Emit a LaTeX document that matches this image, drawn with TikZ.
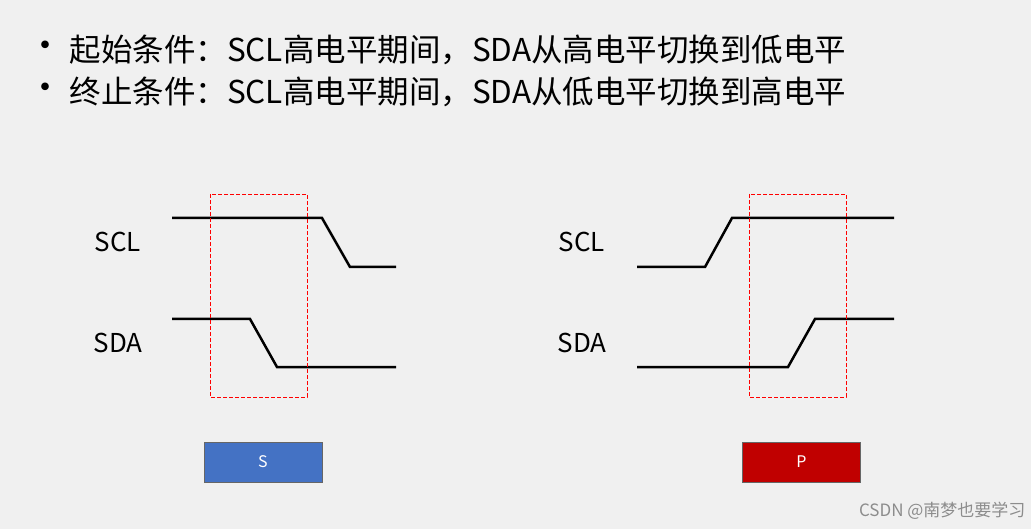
\documentclass[tikz,border=0pt]{standalone}
\usepackage{fontspec}
\setmainfont{Noto Sans CJK SC}
\definecolor{bg}{RGB}{240,240,240}
\definecolor{sblue}{RGB}{68,114,196}
\definecolor{pred}{RGB}{192,0,0}
\begin{document}
\begin{tikzpicture}[x=1pt,y=-1pt,
  sig/.style={line width=2.5pt,black,line join=miter},
  win/.style={draw=red,dash pattern=on 4pt off 2pt,line width=0.8pt},
  lbl/.style={font=\fontsize{26}{28}\selectfont},
  hdr/.style={anchor=west,font=\fontsize{31.5}{34}\selectfont},
  tag/.style={draw=black!60,line width=0.5pt,minimum width=118pt,minimum height=40pt,inner sep=0pt,text=white,font=\fontsize{16}{18}\selectfont}]
\fill[bg] (0,0) rectangle (1031,529);
\useasboundingbox (0,0) rectangle (1031,529);
\node[hdr] (d1) at (24,50) {\fontsize{36}{34}\selectfont•};
\node[hdr] (d2) at (24,92) {\fontsize{36}{34}\selectfont•};
\node[hdr] (b1) at (66,50) {起始条件：SCL高电平期间，SDA从高电平切换到低电平};
\node[hdr] (b2) at (66,92) {终止条件：SCL高电平期间，SDA从低电平切换到高电平};
% left
\node[lbl] (scl1) at (118,242) {SCL};
\node[lbl] (sda1) at (118,343) {SDA};
\draw[sig] (172,218) -- (322,218) -- (350,267) -- (396,267);
\draw[sig] (172,319) -- (250,319) -- (277,367) -- (396,367);
\draw[win] (210,194) rectangle (307,397);
\node[tag,fill=sblue] (s) at (263,462) {S};
% right
\node[lbl] (scl2) at (582,242) {SCL};
\node[lbl] (sda2) at (582,343) {SDA};
\draw[sig] (637,267) -- (705,267) -- (732,218) -- (894,218);
\draw[sig] (637,367) -- (788,367) -- (815,319) -- (894,319);
\draw[win] (749,194) rectangle (846,397);
\node[tag,fill=pred] (p) at (801.5,462) {P};
\node[anchor=east,text=black!45,font=\fontsize{17}{19}\selectfont] (wm) at (1029,511) {CSDN @南梦也要学习};
\end{tikzpicture}
\end{document}
